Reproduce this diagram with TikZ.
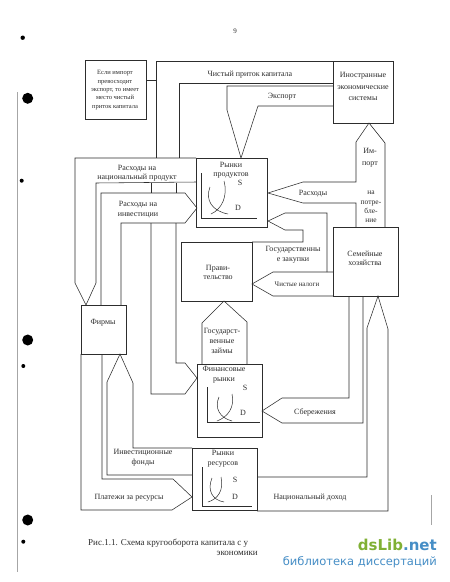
\documentclass[tikz,border=0pt]{standalone}
\usepackage{fontspec}
\setmainfont{Liberation Serif}
\setsansfont{DejaVu Sans}
\definecolor{ink}{RGB}{45,45,45}
\definecolor{libgreen}{RGB}{128,176,52}
\definecolor{libblue}{RGB}{70,142,198}

\tikzset{box/.style={draw=ink,line width=0.55pt,inner sep=0pt,outer sep=0pt,anchor=north west},
        band/.style={draw=ink,line width=0.55pt},
        lbl/.style={text=ink,inner sep=0pt,align=center,font=\fontsize{8}{9.5}\selectfont},
        small/.style={lbl,font=\fontsize{6.5}{8.3}\selectfont},
        axis/.style={draw=ink,line width=0.5pt},
        curve/.style={draw=ink,line width=0.5pt}}

\begin{document}
\begin{tikzpicture}[x=1pt,y=-1pt]
        \useasboundingbox (0,0) rectangle (450,582);
        \fill[white] (0,0) rectangle (450,582);

        \node[box,minimum width=61pt,minimum height=59pt] (note) at (85,60) {};
        \node[box,minimum width=60pt,minimum height=62pt] (foreign) at (333,61) {};
        \node[box,minimum width=71pt,minimum height=69pt] (prod) at (196,158) {};
        \node[box,minimum width=71pt,minimum height=59pt] (gov) at (181,242) {};
        \node[box,minimum width=65pt,minimum height=69pt] (house) at (333,227) {};
        \node[box,minimum width=45pt,minimum height=49pt] (firms) at (81,305) {};
        \node[box,minimum width=65pt,minimum height=73pt] (fin) at (197,364) {};
        \node[box,minimum width=65pt,minimum height=62pt] (res) at (192,448) {};

        \coordinate (capL) at (156,80);
        \path [band] (note.east |- capL) edge (capL);

        \draw[band] (333,61) -- (156,61) -- (156,158);
        \draw[band] (333,83) -- (179,83) -- (179,158);
        \draw[band] (151,183) -- (151,193);
        \draw[band] (176,183) -- (176,193);
        \draw[band] (176,223) -- (176,363) -- (185,363) -- (197,378) -- (185,394) -- (151,394) -- (151,223);

        \draw[band] (333,86) -- (227,86) -- (227,110) -- (241,158) -- (258,106) -- (333,106);

        \draw[band] (196,158) -- (75,158) -- (75,283) -- (86,305) -- (96,283) -- (96,183) -- (196,182);
        \draw[band] (101,305) -- (101,193) -- (185,193) -- (197,208) -- (185,223) -- (121,223) -- (121,305);

        \draw[band] (385,227) -- (385,143) -- (369,123) -- (356,142) -- (356,182) -- (303,182)
                -- (268,193) -- (303,203) -- (356,203) -- (356,227);
        \draw[band] (252,242) -- (303,242) -- (303,230) -- (285,230) -- (268,221) -- (285,213) -- (327,213) -- (327,272);
        \draw[band] (333,272) -- (273,272) -- (252,284) -- (273,296) -- (333,296);
        \draw[band] (202,364) -- (202,323) -- (224,301) -- (247,322) -- (247,364);
        \draw[band] (349,296) -- (349,398) -- (282,398) -- (262,411) -- (282,423) -- (363,423) -- (363,296);
        \draw[band] (257,477) -- (367,477) -- (367,328) -- (378,296) -- (388,329) -- (388,511) -- (257,511);
        \draw[band] (81,354) -- (81,510) -- (172,510) -- (192,497) -- (173,479) -- (102,479) -- (102,354);
        \draw[band] (192,448) -- (133,448) -- (133,383) -- (120,354) -- (107,382) -- (107,475) -- (192,475);

        \draw[axis] (201,173) -- (201,218) -- (257,218);
        \draw[curve] (210,187) .. controls (205,200) and (212,211) .. (228,214);
        \draw[curve] (224,181) .. controls (228,196) and (222,209) .. (211,214);
        \draw[axis] (207,387) -- (207,422) -- (260,422);
        \draw[curve] (219,397) .. controls (214,408) and (220,418) .. (232,421);
        \draw[curve] (232,394) .. controls (235,407) and (228,417) .. (217,421);
        \draw[axis] (202,467) -- (202,506) -- (252,506);
        \draw[curve] (212,478) .. controls (207,490) and (212,500) .. (224,502);
        \draw[curve] (221,477) .. controls (224,490) and (218,499) .. (208,502);

        \node[small] (noteText) at (115,90) {Если импорт\\превосходит\\экспорт, то имеет\\место чистый\\приток капитала};
        \node[lbl] (capText) at (250,75) {Чистый приток капитала};
        \node[lbl] (exportText) at (282,97) {Экспорт};
        \node[lbl,font=\fontsize{8}{11.3}\selectfont] (foreignText) at (363,86.5) {Иностранные\\экономические\\системы};
        \node[lbl,font=\fontsize{8}{11.5}\selectfont] (importText) at (370,157.5) {Им-\\порт};
        \node[lbl] (consText) at (313,194) {Расходы};
        \node[lbl,font=\fontsize{7.5}{9.2}\selectfont] (consText2) at (371,207) {на\\потре-\\бле-\\ние};
        \node[lbl,font=\fontsize{8}{9}\selectfont] (prodText) at (231,170) {Рынки\\продуктов};
        \node[lbl] (prodS) at (240,183) {S};
        \node[lbl] (prodD) at (238,208) {D};
        \node[lbl,font=\fontsize{8}{9.3}\selectfont] (natText) at (137,173.5) {Расходы на\\национальный продукт};
        \node[lbl,font=\fontsize{8}{10}\selectfont] (invText) at (138,210) {Расходы на\\инвестиции};
        \node[lbl,font=\fontsize{8}{9.3}\selectfont] (purchText) at (293,254.7) {Государственны\\е закупки};
        \node[lbl] (govText) at (218,272.5) {Прави-\\тельство};
        \node[lbl,font=\fontsize{7}{8}\selectfont] (taxText) at (297,284) {Чистые налоги};
        \node[lbl,font=\fontsize{8}{9.4}\selectfont] (houseText) at (365,258) {Семейные\\хозяйства};
        \node[lbl] (firmsText) at (103,323) {Фирмы};
        \node[lbl,font=\fontsize{8}{9.8}\selectfont] (loanText) at (222,341) {Государст-\\венные\\займы};
        \node[lbl,font=\fontsize{8}{9.3}\selectfont] (finText) at (224,374.7) {Финансовые\\рынки};
        \node[lbl] (finS) at (245,388) {S};
        \node[lbl] (finD) at (243,413) {D};
        \node[lbl] (saveText) at (315,412) {Сбережения};
        \node[lbl,font=\fontsize{8}{10}\selectfont] (fundText) at (143,458) {Инвестиционные\\фонды};
        \node[lbl,font=\fontsize{8}{10}\selectfont] (resText) at (223,458.3) {Рынки\\ресурсов};
        \node[lbl] (resS) at (235,480) {S};
        \node[lbl] (resD) at (235,497) {D};
        \node[lbl] (payText) at (129,498) {Платежи за ресурсы};
        \node[lbl] (incomeText) at (310,498) {Национальный доход};

        \node[lbl,font=\fontsize{7}{8}\selectfont] (pageNum) at (235,31) {9};
        \node[lbl,font=\fontsize{9}{10}\selectfont,anchor=west] (caption) at (88,543) {Рис.1.1. Схема кругооборота капитала с у};
        \node[lbl,font=\fontsize{9}{10}\selectfont,anchor=east] (caption2) at (258,553.5) {экономики};
        \node[inner sep=0pt,anchor=east,font=\sffamily\bfseries\fontsize{15}{15}\selectfont] (libName) at (437,545)
                {\textcolor{libgreen}{dsLib}\textcolor{libblue}{.net}};
        \node[inner sep=0pt,anchor=east,text=libblue,font=\sffamily\fontsize{11.5}{12}\selectfont] (libSub) at (437,562)
                {библиотека диссертаций};

        \draw[gray!70,line width=0.6pt] (17.7,92) -- (17.7,572);
        \draw[gray!70,line width=0.5pt] (431,495) -- (431,525);
        \fill[black] (27.7,98.3) circle (5.5pt);
        \fill[black] (27.7,340) circle (5.5pt);
        \fill[black] (27.7,520) circle (5.5pt);
        \fill[black] (22.7,37.7) circle (2.2pt);
        \fill[black] (21.7,180.7) circle (2pt);
        \fill[black] (23.3,366) circle (2pt);
        \fill[black] (23.3,541.7) circle (2pt);
\end{tikzpicture}
\end{document}
